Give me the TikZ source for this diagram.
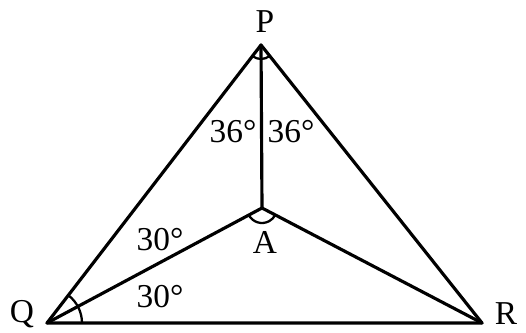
\documentclass[tikz,border=0pt]{standalone}
\usepackage{fontspec}
\setmainfont{Liberation Serif}
\tikzset{
  edge/.style={line width=1.8pt,line cap=round,line join=round},
  angmark/.style={line width=1.3pt},
  lbl/.style={font=\fontsize{19}{22}\selectfont,inner sep=0pt}
}
\begin{document}
\begin{tikzpicture}[x=0.02cm,y=0.02cm]
    \useasboundingbox (0,0) rectangle (526,333);
    \coordinate (P) at (261,288);
    \coordinate (Q) at (47,10);
    \coordinate (R) at (482,10);
    \coordinate (A) at (262,125);
    % triangle and inner segments
    \draw[edge] (P) -- (Q) -- (R) -- cycle;
    \draw[edge] (P) -- (A);
    \draw[edge] (Q) -- (A) -- (R);
    % angle marks
    \draw[angmark] ([shift={(232.4:0.28cm)}]P) arc[start angle=232.4,end angle=308.5,radius=0.28cm];
    \draw[angmark] ([shift={(0:0.7cm)}]Q) arc[start angle=0,end angle=52.4,radius=0.7cm];
    \draw[angmark] ([shift={(208.1:0.3cm)}]A) arc[start angle=208.1,end angle=332.4,radius=0.3cm];
    % labels
    \node[lbl] (lP) at (265,311) {P};
    \node[lbl] (lQ) at (22,19) {Q};
    \node[lbl] (lR) at (506,19) {R};
    \node[lbl] (lA) at (265,91) {A};
    \node[lbl] (p1) at (233,201) {36°};
    \node[lbl] (p2) at (291,201) {36°};
    \node[lbl] (q1) at (160,93) {30°};
    \node[lbl] (q2) at (160,36) {30°};
  \end{tikzpicture}
\end{document}
